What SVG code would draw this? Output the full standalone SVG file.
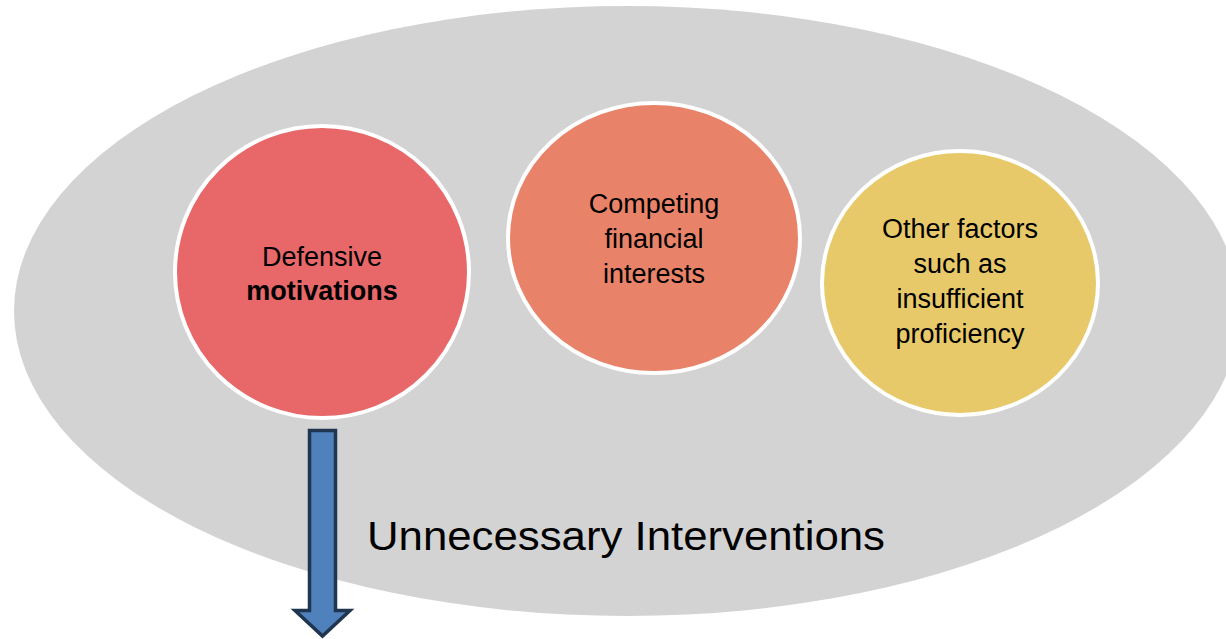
<svg xmlns="http://www.w3.org/2000/svg" width="1226" height="639" viewBox="0 0 1226 639">
<style>
.bg{fill:#D3D3D3}
.node{stroke:#FFFFFF;stroke-width:4}
.t{font-family:"Liberation Sans",Arial,sans-serif;font-size:27px;fill:#000;text-anchor:middle}
.big{font-family:"Liberation Sans",Arial,sans-serif;font-size:40px;fill:#000}
.arrow{fill:#4F81BD;stroke:#1F3550;stroke-width:3.5;stroke-linejoin:miter}
</style>
<rect width="1226" height="639" fill="#FFFFFF"/>
<ellipse class="bg" cx="627" cy="311" rx="613" ry="305"/>
<g id="defensive">
<ellipse class="node" cx="322" cy="272" rx="147" ry="146" fill="#E8686A"/>
<text class="t" x="322" y="266">Defensive</text>
<text class="t" x="322" y="300" font-weight="bold">motivations</text>
</g>
<g id="competing">
<ellipse class="node" cx="654" cy="238" rx="146" ry="135" fill="#E8836A"/>
<text class="t" x="654" y="213">Competing</text>
<text class="t" x="654" y="248">financial</text>
<text class="t" x="654" y="283">interests</text>
</g>
<g id="other">
<ellipse class="node" cx="960" cy="283" rx="138" ry="132" fill="#E7C96A"/>
<text class="t" x="960" y="238">Other factors</text>
<text class="t" x="960" y="273">such as</text>
<text class="t" x="960" y="308">insufficient</text>
<text class="t" x="960" y="343">proficiency</text>
</g>
<g id="connectors">
<path class="arrow" d="M309.5 430.5 H335.5 V610.5 H350 L322.5 636 L295 610.5 H309.5 Z"/>
</g>
<g id="label">
<text class="big" x="367" y="550" textLength="518" lengthAdjust="spacingAndGlyphs">Unnecessary Interventions</text>
</g>
</svg>
